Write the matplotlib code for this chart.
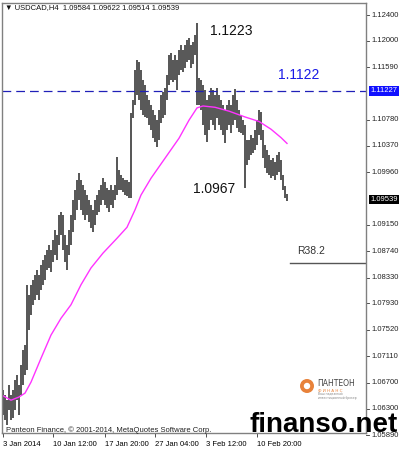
import matplotlib
matplotlib.use("Agg")
import matplotlib.pyplot as plt
import matplotlib.transforms as mtransforms
from matplotlib.patches import Circle

plt.rcParams['font.family'] = ['Liberation Sans', 'DejaVu Sans']

# ---- data (USDCAD H4 bars) ----
highs = [1.0659, 1.0651, 1.0643, 1.0667, 1.0651, 1.0659, 1.0674, 1.0682, 1.0667, 1.0698,
         1.0721, 1.0729, 1.0822, 1.0806, 1.0822, 1.0829, 1.0837, 1.0845, 1.0837, 1.0853,
         1.0860, 1.0868, 1.0876, 1.0884, 1.0876, 1.0891, 1.0907, 1.0899, 1.0930, 1.0935,
         1.0930, 1.0899, 1.0884, 1.0907, 1.0930, 1.0953, 1.0969, 1.0984, 1.0995, 1.0984,
         1.0977, 1.0969, 1.0961, 1.0953, 1.0946, 1.0938, 1.0953, 1.0961, 1.0969, 1.0977,
         1.0987, 1.0981, 1.0972, 1.0969, 1.0977, 1.0969, 1.0977, 1.1020, 1.1000, 1.0992,
         1.0987, 1.0984, 1.0984, 1.0981, 1.1088, 1.1108, 1.1155, 1.1170, 1.1167, 1.1155,
         1.1139, 1.1132, 1.1116, 1.1108, 1.1101, 1.1093, 1.1085, 1.1077, 1.1093, 1.1116,
         1.1121, 1.1127, 1.1147, 1.1178, 1.1181, 1.1170, 1.1178, 1.1170, 1.1186, 1.1194,
         1.1186, 1.1194, 1.1201, 1.1204, 1.1194, 1.1198, 1.1209, 1.1228, 1.1142, 1.1139,
         1.1132, 1.1124, 1.1108, 1.1116, 1.1127, 1.1124, 1.1116, 1.1127, 1.1116, 1.1108,
         1.1101, 1.1093, 1.1101, 1.1108, 1.1101, 1.1116, 1.1125, 1.1108, 1.1093, 1.1085,
         1.1077, 1.1070, 1.1046, 1.1046, 1.1054, 1.1049, 1.1062, 1.1077, 1.1093, 1.1090,
         1.1062, 1.1039, 1.1031, 1.1023, 1.1015, 1.1018, 1.1012, 1.1023, 1.1028, 1.1015,
         1.0992, 1.0975, 1.0962]
lows = [1.0620, 1.0612, 1.0605, 1.0628, 1.0612, 1.0615, 1.0628, 1.0643, 1.0620, 1.0651,
        1.0667, 1.0682, 1.0690, 1.0752, 1.0775, 1.0791, 1.0798, 1.0806, 1.0798, 1.0814,
        1.0822, 1.0829, 1.0845, 1.0848, 1.0842, 1.0857, 1.0868, 1.0860, 1.0884, 1.0899,
        1.0876, 1.0857, 1.0845, 1.0868, 1.0884, 1.0904, 1.0922, 1.0938, 1.0953, 1.0938,
        1.0930, 1.0922, 1.0930, 1.0919, 1.0910, 1.0904, 1.0915, 1.0930, 1.0935, 1.0946,
        1.0953, 1.0946, 1.0941, 1.0935, 1.0946, 1.0941, 1.0953, 1.0961, 1.0969, 1.0969,
        1.0966, 1.0961, 1.0959, 1.0956, 1.0956, 1.1080, 1.1101, 1.1116, 1.1108, 1.1093,
        1.1085, 1.1082, 1.1080, 1.1070, 1.1062, 1.1049, 1.1043, 1.1035, 1.1046, 1.1073,
        1.1080, 1.1085, 1.1108, 1.1132, 1.1139, 1.1136, 1.1139, 1.1124, 1.1147, 1.1155,
        1.1152, 1.1158, 1.1167, 1.1170, 1.1158, 1.1164, 1.1178, 1.1101, 1.1101, 1.1093,
        1.1070, 1.1054, 1.1043, 1.1062, 1.1077, 1.1070, 1.1062, 1.1080, 1.1070, 1.1062,
        1.1054, 1.1042, 1.1062, 1.1070, 1.1057, 1.1070, 1.1077, 1.1065, 1.1059, 1.1057,
        1.1054, 1.0972, 1.1008, 1.1015, 1.1023, 1.1026, 1.1031, 1.1039, 1.1054, 1.1046,
        1.1018, 1.1003, 1.0995, 1.0992, 1.0987, 1.0991, 1.0984, 1.0992, 1.0997, 1.0984,
        1.0969, 1.0956, 1.0951]

ma_bar = [0, 4, 8, 11, 14, 19, 24, 29, 34, 39, 44, 50, 57, 62, 66, 69, 74, 81, 88, 93,
          97, 100, 106, 113, 121, 128, 134, 139, 142]
ma_val = [1.0650, 1.0643, 1.0648, 1.0654, 1.0671, 1.0708, 1.0744, 1.0770, 1.0791, 1.0822,
          1.0848, 1.0871, 1.0894, 1.0911, 1.0938, 1.0961, 1.0987, 1.1018, 1.1049, 1.1077,
          1.1096, 1.1099, 1.1097, 1.1091, 1.1082, 1.1075, 1.1063, 1.1050, 1.1041]

axis_prices = [1.12400, 1.12000, 1.11590, 1.10780, 1.10370, 1.09960, 1.09150, 1.08740,
               1.08330, 1.07930, 1.07520, 1.07110, 1.06700, 1.06300, 1.05890]
date_bars = [0, 25, 51, 76, 101.5, 127]
date_labels = ['3 Jan 2014', '10 Jan 12:00', '17 Jan 20:00', '27 Jan 04:00',
               '3 Feb 12:00', '10 Feb 20:00']
level_line = 1.11227
last_price = 1.09539
r382_level = 1.0856
header = '\u25bc USDCAD,H4  1.09584 1.09622 1.09514 1.09539'

# ---- figure ----
fig = plt.figure(figsize=(4, 4.5), dpi=100)
ax = fig.add_axes([2 / 400, 1 - 433 / 450, 364 / 400, 430 / 450])
ax.set_xlim(-0.5, 181.5)
ax.set_ylim(1.05922, 1.12586)

bars = list(range(len(highs)))
ax.vlines(bars, lows, highs, color='#484848', lw=1.3)
ax.plot(ma_bar, ma_val, color='#ff33ff', lw=1.0)

ax.axhline(level_line, color='#2020b8', lw=0.9, ls=(0, (7, 4)))
ax.plot([143.5, 181.5], [r382_level, r382_level], color='#555555', lw=1.0)

for s in ax.spines.values():
    s.set_color('#808080')
    s.set_linewidth(1.0)

ax.set_yticks([])
ax.set_xticks(date_bars)
ax.set_xticklabels(date_labels, fontsize=5.5)
for lbl in ax.get_xticklabels():
    lbl.set_horizontalalignment('left')
ax.tick_params(axis='x', direction='out', length=3, width=0.6, pad=3, color='#333333')

blend = mtransforms.blended_transform_factory(ax.transAxes, ax.transData)
for v in axis_prices:
    ax.plot([1.0, 1.008], [v, v], transform=blend, clip_on=False, color='#333333', lw=0.6)
    ax.text(1.014, v, f'{v:.5f}', transform=blend, ha='left', va='center',
            fontsize=5.5, color='#222222', clip_on=False)
ax.text(1.012, level_line, f'{level_line:.5f}', transform=blend, ha='left', va='center',
        fontsize=5.5, color='white', clip_on=False,
        bbox=dict(boxstyle='square,pad=0.18', fc='#1010ff', ec='none'))
ax.text(1.012, last_price, f'{last_price:.5f}', transform=blend, ha='left', va='center',
        fontsize=5.5, color='white', clip_on=False,
        bbox=dict(boxstyle='square,pad=0.18', fc='black', ec='none'))

# annotations
ax.text(103.5, 1.1215, '1.1223', fontsize=10, color='#111111', va='center', ha='left')
ax.text(137.5, 1.1147, '1.1122', fontsize=10, color='#1a1ae6', va='center', ha='left')
ax.text(95, 1.0970, '1.0967', fontsize=10, color='#111111', va='center', ha='left')
ax.text(147, 1.0874, 'R38.2', fontsize=7.5, color='#333333', va='center', ha='left')

# header & copyright
fig.text(5 / 400, 1 - 8 / 450, header, fontsize=5.5, color='#111111', va='center', ha='left')
ax.text(1.5, 1.0597, 'Panteon Finance, \u00a9 2001-2014, MetaQuotes Software Corp.',
        fontsize=5.5, color='#222222', va='center', ha='left')

# logo
logo_ax = fig.add_axes([298 / 400, 1 - 402 / 450, 68 / 400, 28 / 450])
logo_ax.set_xlim(0, 68)
logo_ax.set_ylim(0, 28)
logo_ax.axis('off')
logo_ax.add_patch(Circle((9, 16), 7, fc='#e8823a', ec='none'))
logo_ax.add_patch(Circle((9, 16), 3.2, fc='white', ec='none'))
logo_ax.text(19, 18, 'ПАНТЕОН', fontsize=5.5, color='#444444', va='center', ha='left',
             family=['DejaVu Sans'])
logo_ax.text(20, 11.5, 'Ф И Н А Н С', fontsize=3, color='#e8823a', va='center', ha='left',
             family=['DejaVu Sans'])
logo_ax.text(20, 6.5, 'Ваш надежный\nинвестиционный брокер', fontsize=2.2, color='#888888',
             va='center', ha='left', family=['DejaVu Sans'], linespacing=1.1)

# watermark
fig.text(398 / 400, 1 - 425 / 450, 'finanso.net', fontsize=20, fontweight='bold',
         color='black', ha='right', va='center')

fig.savefig('out.png', dpi=100)
